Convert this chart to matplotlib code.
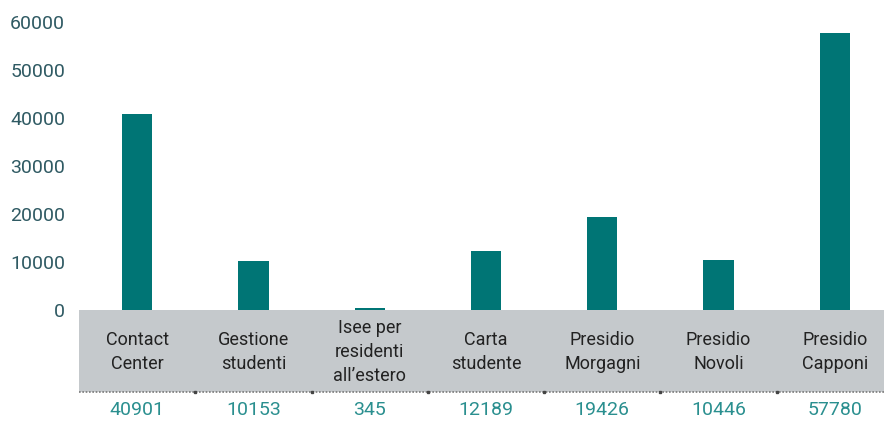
import numpy as np
import matplotlib.pyplot as plt

# data
categories = ['Contact\nCenter', 'Gestione\nstudenti', 'Isee per\nresidenti\nall\u2019estero',
              'Carta\nstudente', 'Presidio\nMorgagni', 'Presidio\nNovoli', 'Presidio\nCapponi']
values = [40901, 10153, 345, 12189, 19426, 10446, 57780]
y_ticks = [0, 10000, 20000, 30000, 40000, 50000, 60000]

bar_color = '#007575'
tick_color = '#2f5a63'
value_color = '#2a8f8f'
band_color = '#c5c9cc'

plt.rcParams['font.family'] = ['Roboto', 'DejaVu Sans']

W, H = 884, 422
fig = plt.figure(figsize=(W / 100, H / 100), dpi=100)

x = np.arange(len(categories))
xmax = 6.5 - 9 / 117  # last column clipped by the right edge, as in the picture

# bar area
ax = fig.add_axes([79 / W, (H - 310) / H, (W - 79) / W, (310 - 22) / H])
ax.bar(x, values, width=0.26, color=bar_color)
ax.set_xlim(-0.5, xmax)
ax.set_ylim(0, 60000)
ax.set_yticks(y_ticks)
ax.set_yticklabels([str(t) for t in y_ticks], color=tick_color, fontsize=14)
ax.tick_params(axis='y', length=0, pad=10)
ax.tick_params(axis='x', bottom=False, labelbottom=False)
for s in ax.spines.values():
    s.set_visible(False)

# table under the bars
tab = fig.add_axes([79 / W, 0, (W - 79) / W, (H - 310) / H])
tab.set_xlim(-0.5, xmax)
tab.set_ylim(H, 310)  # pixel rows, top-down
tab.axis('off')
tab.axhspan(310, 392, color=band_color, lw=0)
tab.axhline(392, color='#7a7a7a', lw=1.2, ls=(0, (1, 1)))
for b in np.arange(0.5, 6.5, 1):
    tab.plot([b], [392], marker='s', ms=2, color='#444444')
for xi, lab, v in zip(x, categories, values):
    tab.text(xi, 352, lab, ha='center', va='center', fontsize=13,
             color='#222222', linespacing=1.4)
    tab.text(xi, 410, str(v), ha='center', va='center', fontsize=14,
             color=value_color)

fig.savefig('out.png', dpi=100)
